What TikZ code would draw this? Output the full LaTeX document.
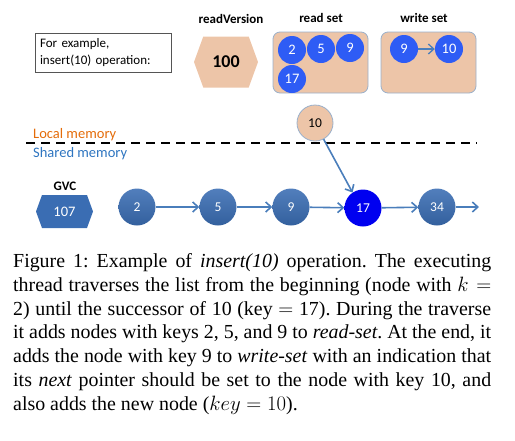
\documentclass[tikz,border=0pt]{standalone}
\usepackage{fontspec}
\setmainfont{Liberation Serif}
\newfontfamily\diafont{Carlito}
\usetikzlibrary{arrows.meta, positioning, shapes.geometric, shapes.symbols}
\definecolor{peach}{HTML}{EDC5A8}
\definecolor{rimblue}{HTML}{9AB0CB}
\definecolor{listblue}{HTML}{3A6DB3}
\definecolor{setblue}{HTML}{2E5CF5}
\definecolor{hotblue}{HTML}{0000F0}
\definecolor{linkblue}{HTML}{4A7EBB}
\definecolor{localorange}{HTML}{E46C0A}
\definecolor{sharedblue}{HTML}{2E75C0}
\definecolor{edgegray}{HTML}{555555}

\tikzset{
  setbox/.style={fill=peach, draw=rimblue, line width=0.8pt, rounded corners=7pt,
    minimum width=95pt, minimum height=61pt, inner sep=0pt},
  setkey/.style={circle, fill=setblue, minimum size=28pt, inner sep=0pt,
    text=white, font=\diafont\fontsize{14.5}{14.5}\selectfont},
  listkey/.style={circle, top color=listblue!88!white, bottom color=listblue!88!black,
    minimum size=37pt, inner sep=0pt, text=white, font=\diafont\fontsize{13.5}{13.5}\selectfont},
  hexbox/.style={signal, signal to=west and east, signal pointer angle=140, inner sep=0pt},
  title/.style={font=\diafont\bfseries\fontsize{13}{13}\selectfont},
  memlabel/.style={anchor=base west, inner sep=0pt, font=\diafont\fontsize{14.5}{14.5}\selectfont},
  link/.style={-{Straight Barb[length=5.5pt, width=10pt]}, linkblue, line width=1.6pt},
}

\begin{document}
\frenchspacing
\begin{tikzpicture}[x=1pt, y=-1pt]
\useasboundingbox (0,0) rectangle (515,440);

% --- Local side: note, readVersion, read set, write set ---
\node[draw=edgegray, line width=0.6pt, minimum width=136pt, minimum height=39pt,
  text width=126pt, align=left, inner xsep=5pt,
  font=\diafont\fontsize{13}{16.5}\selectfont] (note) at (103,52.5)
  {For example,\\insert(10) operation:};

\node[title] (rvlabel) at (231,19) {readVersion};
\node[hexbox, fill=peach, minimum width=64pt, minimum height=51pt,
  font=\diafont\bfseries\fontsize{18}{18}\selectfont] (rv) at (226,62) {100};

\node[title] (rsetlabel) at (321,18) {read set};
\node[setbox] (rset) at (320.5,62.5) {};
\node[setkey] (r2) at (292,50) {2};
\node[setkey] (r5) at (321,49) {5};
\node[setkey] (r9) at (350,48) {9};
\node[setkey] (r17) at (292,79) {17};

\node[title] (wsetlabel) at (424,18) {write set};
\node[setbox] (wset) at (428.5,62.5) {};
\node[setkey] (w9) at (404,49) {9};
\node[setkey] (w10) at (449,49) {10};
\draw[link, line width=1.3pt] (w9) -- (w10);

% new node, still local
\node[circle, fill=peach, draw=rimblue, line width=0.8pt, minimum size=36pt, inner sep=0pt,
  font=\diafont\fontsize{13.5}{13.5}\selectfont] (ins) at (315,123) {10};

% --- Memory separator ---
\coordinate (sepL) at (26,143);
\coordinate (sepR) at (477,143);
\draw[dash pattern=on 9pt off 6pt, line width=2.4pt] (sepL) -- (sepR);
\node[memlabel, text=localorange] (local) at (33,138.5) {Local memory};
\node[memlabel, text=sharedblue] (shared) at (33,157.5) {Shared memory};

% --- Shared side: GVC and the list ---
\node[title] (gvclabel) at (65,186) {GVC};
\node[hexbox, fill=listblue, minimum width=57pt, minimum height=33pt, text=white,
  font=\diafont\fontsize{14.5}{14.5}\selectfont] (gvc) at (64.5,211.5) {107};

\foreach \k/\x in {2/137, 5/218, 9/291, 34/437}
  \node[listkey] (n\k) at (\x,207) {\k};
\node[listkey, top color=hotblue, bottom color=hotblue] (n17) at (363,208) {17};
\coordinate (tail) at (479,207);

\foreach \a/\b in {n2/n5, n5/n9, n9/n17, n17/n34, n34/tail}
  \draw[link] (\a) -- (\b);
\draw[link] (ins.-62) -- (n17.124);

% --- Caption ---
\node[anchor=north west, inner sep=0pt, text width=478pt, align=justify,
  font=\fontsize{19.9}{23.9}\selectfont] (caption) at (13,253)
  {Figure 1: Example of \textit{insert(10)} operation. The executing\linebreak
   thread traverses the list from the beginning (node with $k=$\linebreak
   2) until the successor of 10 (key $=$ 17). During the traverse\linebreak
   it adds nodes with keys 2, 5, and 9 to \textit{read-set}. At the end, it\linebreak
   adds the node with key 9 to \textit{write-set} with an indication that\linebreak
   its \textit{next} pointer should be set to the node with key 10, and\linebreak
   also adds the new node ($key=10$).};

\end{tikzpicture}
\end{document}
